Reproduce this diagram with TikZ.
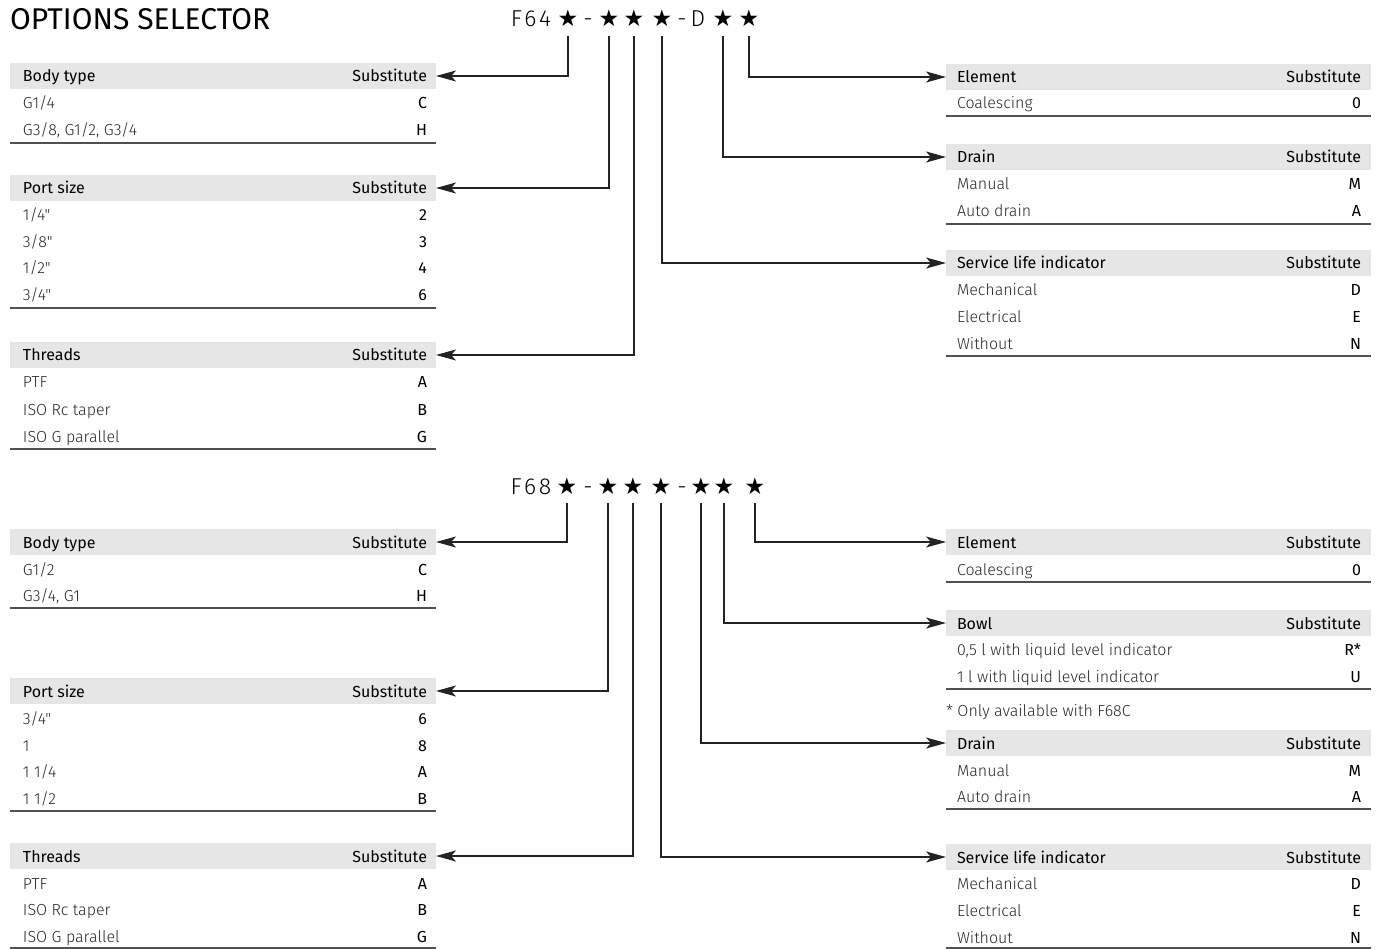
\documentclass[tikz,border=0pt]{standalone}
\usepackage{fontspec}
\setmainfont{Fira Sans}
\newfontfamily\lightfont{Fira Sans Light}
\newfontfamily\codefont{Fira Sans Light}[LetterSpace=12]
\newfontfamily\starfont{DejaVu Sans}
\usetikzlibrary{arrows.meta}
\definecolor{bandgray}{RGB}{230,230,230}
\definecolor{rowgray}{RGB}{40,40,40}
\definecolor{rulegray}{RGB}{80,80,80}
\definecolor{linkgray}{RGB}{35,35,35}
\begin{document}
\begin{tikzpicture}[x=1pt,y=-1pt,
  every node/.style={inner sep=0pt, outer sep=0pt},
  band/.style={fill=bandgray, minimum width=426pt, minimum height=26pt, anchor=west},
  head/.style={font=\fontsize{16}{18}\selectfont, anchor=base west},
  subst/.style={font=\fontsize{16}{18}\selectfont, anchor=base east},
  item/.style={font=\lightfont\fontsize{16}{18}\selectfont, text=rowgray, anchor=base west},
  val/.style={font=\fontsize{16}{18}\selectfont, anchor=base east},
  rule/.style={draw=rulegray, line width=1.3pt},
  pick/.style={font=\starfont\fontsize{23}{23}\selectfont, anchor=base},
  part/.style={font=\codefont\fontsize{23}{23}\selectfont, anchor=base},
  link/.style={draw=linkgray, line width=1.2pt, shorten <=9pt, -{Stealth[length=20pt,width=11pt,inset=5pt]}}]
\useasboundingbox (0,0) rectangle (1381,949);
\node[anchor=base west, font=\fontsize{30}{30}\selectfont] (title) at (10,30) {OPTIONS SELECTOR};

% F64 code
\node[part] (ucode) at (531,27) {F64};
\node[pick] (us1) at (568,27) {★};
\node[part] (ud1) at (588,27) {-};
\node[pick] (us2) at (609,27) {★};
\node[pick] (us3) at (634,27) {★};
\node[pick] (us4) at (662,27) {★};
\node[part] (ud2) at (682,27) {-};
\node[part] (ud3) at (698,27) {D};
\node[pick] (us5) at (723,27) {★};
\node[pick] (us6) at (749,27) {★};

\node[band] (ubody) at (10,76) {};
\node[head] (ubodyh) at (23,82) {Body type};
\node[subst] (ubodys) at (427,82) {Substitute};
\node[item] (ubody1) at (23,109) {G1/4};
\node[val] (ubody1v) at (427,109) {C};
\node[item] (ubody2) at (23,136) {G3/8, G1/2, G3/4};
\node[val] (ubody2v) at (427,136) {H};
\draw[rule] (10,143) -- (436,143);

\node[band] (uport) at (10,188) {};
\node[head] (uporth) at (23,194) {Port size};
\node[subst] (uports) at (427,194) {Substitute};
\node[item] (uport1) at (23,221) {1/4"};
\node[val] (uport1v) at (427,221) {2};
\node[item] (uport2) at (23,248) {3/8"};
\node[val] (uport2v) at (427,248) {3};
\node[item] (uport3) at (23,274) {1/2"};
\node[val] (uport3v) at (427,274) {4};
\node[item] (uport4) at (23,301) {3/4"};
\node[val] (uport4v) at (427,301) {6};
\draw[rule] (10,308) -- (436,308);

\node[band] (uthread) at (10,355) {};
\node[head] (uthreadh) at (23,361) {Threads};
\node[subst] (uthreads) at (427,361) {Substitute};
\node[item] (uthread1) at (23,388) {PTF};
\node[val] (uthread1v) at (427,388) {A};
\node[item] (uthread2) at (23,415) {ISO Rc taper};
\node[val] (uthread2v) at (427,415) {B};
\node[item] (uthread3) at (23,442) {ISO G parallel};
\node[val] (uthread3v) at (427,442) {G};
\draw[rule] (10,449) -- (436,449);

\node[band, minimum width=425pt] (uelem) at (946,77) {};
\node[head] (uelemh) at (957,83) {Element};
\node[subst] (uelems) at (1361,83) {Substitute};
\node[item] (uelem1) at (957,109) {Coalescing};
\node[val] (uelem1v) at (1361,109) {0};
\draw[rule] (946,116) -- (1371,116);

\node[band, minimum width=425pt] (udrain) at (946,157) {};
\node[head] (udrainh) at (957,163) {Drain};
\node[subst] (udrains) at (1361,163) {Substitute};
\node[item] (udrain1) at (957,190) {Manual};
\node[val] (udrain1v) at (1361,190) {M};
\node[item] (udrain2) at (957,217) {Auto drain};
\node[val] (udrain2v) at (1361,217) {A};
\draw[rule] (946,224) -- (1371,224);

\node[band, minimum width=425pt] (userv) at (946,263) {};
\node[head] (uservh) at (957,269) {Service life indicator};
\node[subst] (uservs) at (1361,269) {Substitute};
\node[item] (userv1) at (957,296) {Mechanical};
\node[val] (userv1v) at (1361,296) {D};
\node[item] (userv2) at (957,323) {Electrical};
\node[val] (userv2v) at (1361,323) {E};
\node[item] (userv3) at (957,349) {Without};
\node[val] (userv3v) at (1361,349) {N};
\draw[rule] (946,356) -- (1371,356);

\draw[link] (us1.south) |- (ubody.east);
\draw[link] (us2.south) |- (uport.east);
\draw[link] (us3.south) |- (uthread.east);
\draw[link] (us4.south) |- (userv.west);
\draw[link] (us5.south) |- (udrain.west);
\draw[link] (us6.south) |- (uelem.west);

% F68 code
\node[part] (lcode) at (531,494) {F68};
\node[pick] (ls1) at (567,494) {★};
\node[part] (ld1) at (588,494) {-};
\node[pick] (ls2) at (608,494) {★};
\node[pick] (ls3) at (633,494) {★};
\node[pick] (ls4) at (661,494) {★};
\node[part] (ld2) at (682,494) {-};
\node[pick] (ls5) at (701,494) {★};
\node[pick] (ls6) at (724,494) {★};
\node[pick] (ls7) at (755,494) {★};

\node[band] (lbody) at (10,542) {};
\node[head] (lbodyh) at (23,548) {Body type};
\node[subst] (lbodys) at (427,548) {Substitute};
\node[item] (lbody1) at (23,575) {G1/2};
\node[val] (lbody1v) at (427,575) {C};
\node[item] (lbody2) at (23,601) {G3/4, G1};
\node[val] (lbody2v) at (427,601) {H};
\draw[rule] (10,608) -- (436,608);

\node[band] (lport) at (10,691) {};
\node[head] (lporth) at (23,697) {Port size};
\node[subst] (lports) at (427,697) {Substitute};
\node[item] (lport1) at (23,724) {3/4"};
\node[val] (lport1v) at (427,724) {6};
\node[item] (lport2) at (23,751) {1};
\node[val] (lport2v) at (427,751) {8};
\node[item] (lport3) at (23,777) {1 1/4};
\node[val] (lport3v) at (427,777) {A};
\node[item] (lport4) at (23,804) {1 1/2};
\node[val] (lport4v) at (427,804) {B};
\draw[rule] (10,811) -- (436,811);

\node[band] (lthread) at (10,856) {};
\node[head] (lthreadh) at (23,862) {Threads};
\node[subst] (lthreads) at (427,862) {Substitute};
\node[item] (lthread1) at (23,889) {PTF};
\node[val] (lthread1v) at (427,889) {A};
\node[item] (lthread2) at (23,915) {ISO Rc taper};
\node[val] (lthread2v) at (427,915) {B};
\node[item] (lthread3) at (23,942) {ISO G parallel};
\node[val] (lthread3v) at (427,942) {G};
\draw[rule] (10,948) -- (436,948);

\node[band, minimum width=425pt] (lelem) at (946,542) {};
\node[head] (lelemh) at (957,548) {Element};
\node[subst] (lelems) at (1361,548) {Substitute};
\node[item] (lelem1) at (957,575) {Coalescing};
\node[val] (lelem1v) at (1361,575) {0};
\draw[rule] (946,582) -- (1371,582);

\node[band, minimum width=425pt] (lbowl) at (946,623) {};
\node[head] (lbowlh) at (957,629) {Bowl};
\node[subst] (lbowls) at (1361,629) {Substitute};
\node[item] (lbowl1) at (957,655) {0,5 l with liquid level indicator};
\node[val] (lbowl1v) at (1361,655) {R*};
\node[item] (lbowl2) at (957,682) {1 l with liquid level indicator};
\node[val] (lbowl2v) at (1361,682) {U};
\draw[rule] (946,689) -- (1371,689);
\node[item] (lnote) at (946,716) {* Only available with F68C};

\node[band, minimum width=425pt] (ldrain) at (946,743) {};
\node[head] (ldrainh) at (957,749) {Drain};
\node[subst] (ldrains) at (1361,749) {Substitute};
\node[item] (ldrain1) at (957,776) {Manual};
\node[val] (ldrain1v) at (1361,776) {M};
\node[item] (ldrain2) at (957,802) {Auto drain};
\node[val] (ldrain2v) at (1361,802) {A};
\draw[rule] (946,809) -- (1371,809);

\node[band, minimum width=425pt] (lserv) at (946,857) {};
\node[head] (lservh) at (957,863) {Service life indicator};
\node[subst] (lservs) at (1361,863) {Substitute};
\node[item] (lserv1) at (957,889) {Mechanical};
\node[val] (lserv1v) at (1361,889) {D};
\node[item] (lserv2) at (957,916) {Electrical};
\node[val] (lserv2v) at (1361,916) {E};
\node[item] (lserv3) at (957,943) {Without};
\node[val] (lserv3v) at (1361,943) {N};
\draw[rule] (946,948) -- (1371,948);

\draw[link] (ls1.south) |- (lbody.east);
\draw[link] (ls2.south) |- (lport.east);
\draw[link] (ls3.south) |- (lthread.east);
\draw[link] (ls4.south) |- (lserv.west);
\draw[link] (ls5.south) |- (ldrain.west);
\draw[link] (ls6.south) |- (lbowl.west);
\draw[link] (ls7.south) |- (lelem.west);
\end{tikzpicture}
\end{document}
